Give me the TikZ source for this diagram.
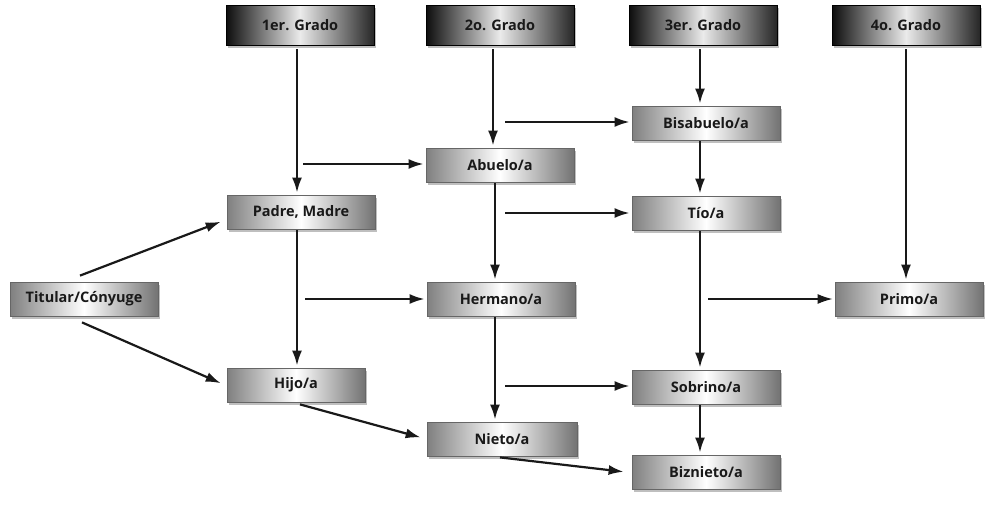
\documentclass[tikz,border=0pt]{standalone}
\usepackage{fontspec}
\setmainfont{Open Sans}
\usetikzlibrary{arrows.meta,shadows,calc}
\begin{document}
\begin{tikzpicture}[x=1pt,y=-1pt,
  base/.style={rectangle, minimum height=34pt, minimum width=148pt, inner sep=2pt,
    font=\fontsize{14.5}{16}\selectfont\bfseries, text=black!90,
    draw=black!60, line width=0.8pt,
    drop shadow={shadow xshift=1.5pt, shadow yshift=-2.5pt, fill=black!50}},
  grade/.style={base, minimum height=40pt, minimum width=148pt,
    left color=black!95, right color=black!85, middle color=black!8, draw=black},
  kin/.style={base, left color=black!50, right color=black!55, middle color=white},
  arr/.style={-{Latex[length=15pt,width=10pt]}, line width=2.2pt, black!90,
    shorten >=2pt}
]
\useasboundingbox (0,0) rectangle (986,509);

% grade headers
\node[grade] (g1) at (300,25) {1er. Grado};
\node[grade] (g2) at (500,25) {2o. Grado};
\node[grade] (g3) at (703,25) {3er. Grado};
\node[grade] (g4) at (906,25) {4o. Grado};

% kin nodes
\node[kin] (bis) at (706,123) {Bisabuelo/a};
\node[kin] (abu) at (500,165) {Abuelo/a};
\node[kin] (pad) at (301,212) {Padre, Madre};
\node[kin] (tio) at (706,213) {Tío/a};
\node[kin] (tit) at (84,299) {Titular/Cónyuge};
\node[kin] (her) at (501,299) {Hermano/a};
\node[kin] (pri) at (909,299) {Primo/a};
\node[kin, minimum width=138pt] (hij) at (296,385) {Hijo/a};
\node[kin] (sob) at (706,387) {Sobrino/a};
\node[kin, minimum width=150pt] (nie) at (502,439) {Nieto/a};
\node[kin] (biz) at (706,472) {Biznieto/a};

% vertical connectors
\draw[arr, shorten <=4pt] (g1.south -| 297,0) -- (pad.north -| 297,0);
\draw[arr, shorten <=4pt] (g2.south -| 493,0) -- (abu.north -| 493,0);
\draw[arr, shorten <=4pt] (g3.south -| 700,0) -- (bis.north -| 700,0);
\draw[arr, shorten <=4pt] (g4.south) -- (pri.north -| g4.south);
\draw[arr, shorten <=1pt] (bis.south -| 700,0) -- (tio.north -| 700,0);
\draw[arr, shorten <=1pt] (tio.south -| 700,0) -- (sob.north -| 700,0);
\draw[arr, shorten <=1pt] (sob.south -| 700,0) -- (biz.north -| 700,0);
\draw[arr, shorten <=1pt] (pad.south -| 297,0) -- (hij.north -| 297,0);
\draw[arr, shorten <=1pt] (abu.south -| 495,0) -- (her.north -| 495,0);
\draw[arr, shorten <=1pt] (her.south -| 495,0) -- (nie.north -| 495,0);

% horizontal branches
\coordinate (s1) at (303,164);
\coordinate (s2) at (505,122);
\coordinate (s3) at (505,213);
\coordinate (s4) at (305,299);
\coordinate (s5) at (708,299);
\coordinate (s6) at (505,386);
\draw[arr] (s1) -- (abu.west |- s1);
\draw[arr] (s2) -- (bis.west |- s2);
\draw[arr] (s3) -- (tio.west |- s3);
\draw[arr] (s4) -- (her.west |- s4);
\draw[arr, line width=1.5pt] (s5) -- (pri.west |- s5);
\draw[arr] (s6) -- (sob.west |- s6);

% diagonals
\draw[arr] ($(tit.north)+(-4,-6)$) -- ($(pad.west)+(-4,9)$);
\draw[arr] ($(tit.south)+(-2,6)$) -- ($(hij.west)+(-4,-1)$);
\draw[arr] ($(hij.south)+(4,2)$) -- ($(nie.west)+(-4,-1)$);
\draw[arr] ($(nie.south)+(-2,1)$) -- ($(biz.west)+(-6,0)$);
\end{tikzpicture}
\end{document}
